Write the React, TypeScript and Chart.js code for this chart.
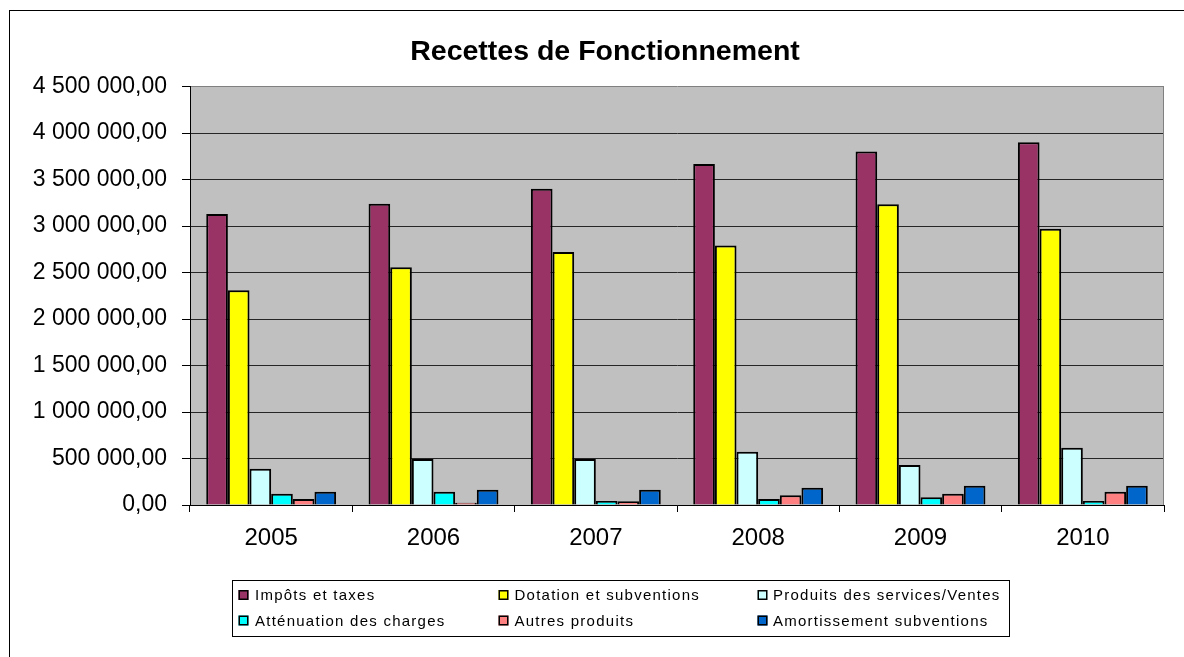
import React, { useEffect, useRef } from 'react';
import { Chart, registerables } from 'chart.js';

Chart.register(...registerables);

const chartTitle = 'Recettes de Fonctionnement';
const categories = ['2005', '2006', '2007', '2008', '2009', '2010'];
const seriesNames = [
  'Impôts et taxes',
  'Dotation et subventions',
  'Produits des services/Ventes',
  'Atténuation des charges',
  'Autres produits',
  'Amortissement subventions',
];
const impots = [3130000, 3238000, 3400000, 3668000, 3800000, 3900000];
const dotation = [2310000, 2557000, 2720000, 2790000, 3235000, 2970000];
const produits = [390000, 495000, 495000, 573000, 430000, 616000];
const attenuation = [122000, 143000, 43000, 65000, 83000, 43000];
const autres = [65000, 25000, 40000, 104000, 122000, 143000];
const amortissement = [143000, 165000, 165000, 186000, 208000, 208000];
const yMin = 0;
const yMax = 4500000;
const yStep = 500000;

const seriesValues = [impots, dotation, produits, attenuation, autres, amortissement];
const seriesColors = ['#993366', '#FFFF00', '#CCFFFF', '#00FFFF', '#FF8080', '#0066CC'];

const SANS = '"Liberation Sans", Arial, sans-serif';

function formatFr(v: number): string {
  const s = Math.round(v).toString().replace(/\B(?=(\d{3})+(?!\d))/g, ' ');
  return s + ',00';
}

const framePlugin = {
  id: 'frame',
  beforeDraw(chart: any) {
    const { ctx, chartArea } = chart;
    ctx.save();
    ctx.fillStyle = '#FFFFFF';
    ctx.fillRect(0, 0, chart.width, chart.height);
    ctx.strokeStyle = '#000000';
    ctx.lineWidth = 1;
    ctx.strokeRect(9.5, 10.5, 1300, 800);
    ctx.fillStyle = '#C0C0C0';
    ctx.fillRect(chartArea.left, chartArea.top, chartArea.right - chartArea.left, chartArea.bottom - chartArea.top);
    ctx.restore();
  },
  afterDraw(chart: any) {
    const { ctx, chartArea } = chart;
    ctx.save();
    ctx.strokeStyle = '#808080';
    ctx.lineWidth = 1;
    ctx.beginPath();
    const rx = Math.round(chartArea.right) - 0.5;
    ctx.moveTo(rx, chartArea.top);
    ctx.lineTo(rx, chartArea.bottom);
    ctx.stroke();
    // title, centred on the outer chart frame
    ctx.fillStyle = '#000000';
    ctx.font = 'bold 28.5px ' + SANS;
    ctx.textAlign = 'center';
    ctx.textBaseline = 'middle';
    ctx.fillText(chartTitle, 605, 52);
    ctx.restore();
  },
};

const boxLegendPlugin = {
  id: 'boxLegend',
  afterDraw(chart: any) {
    const ctx = chart.ctx;
    ctx.save();
    ctx.strokeStyle = '#000000';
    ctx.lineWidth = 1;
    ctx.strokeRect(232.5, 580.5, 777, 56);
    const swatchX = [238.5, 498.5, 757.5];
    const textX = [255, 514.5, 773];
    const rows = [595, 620.5];
    ctx.font = '15px ' + SANS;
    ctx.textBaseline = 'middle';
    ctx.textAlign = 'left';
    try {
      (ctx as any).letterSpacing = '1.25px';
    } catch (e) {
      /* ignore */
    }
    chart.data.datasets.forEach((ds: any, i: number) => {
      const col = i % 3;
      const y = rows[Math.floor(i / 3)];
      const x = swatchX[col];
      ctx.fillStyle = ds.backgroundColor;
      ctx.fillRect(x, y - 5, 10, 10);
      ctx.strokeStyle = '#000000';
      ctx.lineWidth = 1.5;
      ctx.strokeRect(x + 0.75, y - 4.25, 8.5, 8.5);
      ctx.fillStyle = '#000000';
      ctx.fillText(ds.label, textX[col], y + 1);
    });
    ctx.restore();
  },
};

export default function App() {
  const canvasRef = useRef<HTMLCanvasElement | null>(null);

  useEffect(() => {
    if (!canvasRef.current) return;
    const chart = new Chart(canvasRef.current, {
      type: 'bar',
      data: {
        labels: categories,
        datasets: seriesNames.map((name, i) => ({
          label: name,
          data: seriesValues[i],
          backgroundColor: seriesColors[i],
          borderColor: '#000000',
          borderWidth: 2,
          categoryPercentage: 0.8,
          barPercentage: 1.0,
        })),
      },
      options: {
        animation: false,
        responsive: false,
        devicePixelRatio: 1,
        layout: { padding: { left: 12, right: 20, top: 86.5, bottom: 0 } },
        plugins: {
          legend: { display: false },
          tooltip: { enabled: false },
          title: { display: false },
        },
        scales: {
          x: {
            grid: {
              offset: true,
              drawOnChartArea: false,
              drawTicks: true,
              tickLength: 7,
              color: '#000000',
            },
            border: { color: '#000000', width: 1 },
            ticks: {
              color: '#000000',
              font: { family: SANS, size: 24 },
              padding: 12,
              maxRotation: 0,
              autoSkip: false,
            },
            afterFit: (scale: any) => {
              scale.height = 152;
            },
          },
          y: {
            min: yMin,
            max: yMax,
            grid: {
              color: (c: any) => (c.tick && c.tick.value === yMax ? '#808080' : '#262626'),
              tickColor: '#000000',
              tickLength: 8,
              drawTicks: true,
            },
            border: { color: '#000000', width: 1 },
            ticks: {
              stepSize: yStep,
              color: '#000000',
              font: { family: SANS, size: 23 },
              padding: 15,
              callback: (v: any) => formatFr(Number(v)),
            },
            afterFit: (scale: any) => {
              scale.width = 178;
            },
          },
        },
      },
      plugins: [framePlugin, boxLegendPlugin],
    });
    return () => chart.destroy();
  }, []);

  return (
    <div style={{ position: 'fixed', left: 0, top: 0, width: 1184, height: 657 }}>
      <canvas ref={canvasRef} width={1184} height={657} style={{ display: 'block', width: 1184, height: 657 }} />
    </div>
  );
}
